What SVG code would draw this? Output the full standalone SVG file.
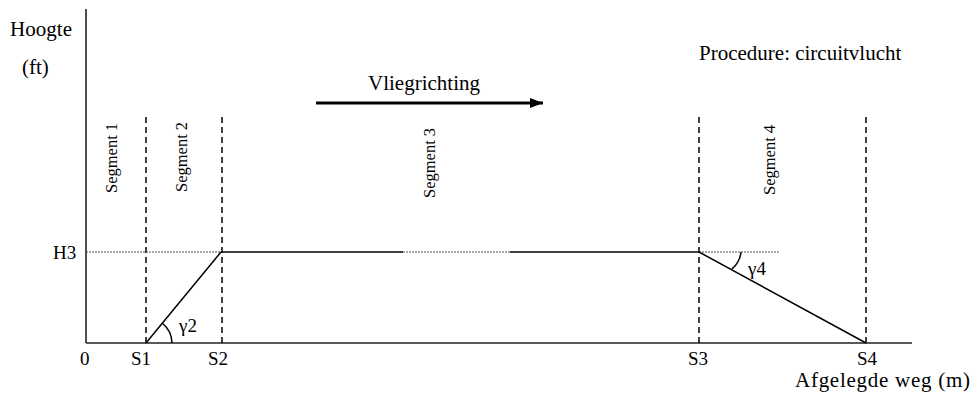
<svg xmlns="http://www.w3.org/2000/svg" width="974" height="401" viewBox="0 0 974 401">
<style>
text{font-family:"Liberation Serif","Times New Roman",serif;fill:#000}
.lbl{font-size:19px}
.big{font-size:21px}
.seg{font-size:16.5px}
.axis{stroke:#222;stroke-width:1.6;fill:none}
.dash{stroke:#000;stroke-width:1.5;stroke-dasharray:6 4;fill:none}
.dot{stroke:#555;stroke-width:1.2;stroke-dasharray:2 1;fill:none}
.path{stroke:#000;stroke-width:1.5;fill:none}
</style>
<defs>
<marker id="ah" markerWidth="14" markerHeight="12" refX="13" refY="5" orient="auto" markerUnits="userSpaceOnUse">
<path d="M0,0 L13,5 L0,10 Z" fill="#000"/>
</marker>
</defs>
<g id="axes">
<line class="axis" x1="86" y1="9" x2="86" y2="343"/>
<line class="axis" x1="86" y1="343" x2="912" y2="343"/>
<text class="big" x="10" y="36" textLength="62">Hoogte</text>
<text class="big" x="22" y="74">(ft)</text>
<text class="big" x="795" y="387" font-size="22" textLength="175">Afgelegde weg (m)</text>
<text class="lbl" x="80" y="365">0</text>
<text class="lbl" x="53" y="259">H3</text>
</g>
<g id="segment-lines">
<line class="dash" x1="146" y1="117" x2="146" y2="343"/>
<line class="dash" x1="222" y1="117" x2="222" y2="343"/>
<line class="dash" x1="699" y1="117" x2="699" y2="343"/>
<line class="dash" x1="866" y1="117" x2="866" y2="343"/>
<text class="lbl" x="131" y="365">S1</text>
<text class="lbl" x="208" y="365">S2</text>
<text class="lbl" x="688" y="365">S3</text>
<text class="lbl" x="857" y="365">S4</text>
</g>
<g id="segment-labels">
<text class="seg" transform="translate(117,193) rotate(-90)">Segment 1</text>
<text class="seg" transform="translate(187,192) rotate(-90)">Segment 2</text>
<text class="seg" transform="translate(435,198) rotate(-90)">Segment 3</text>
<text class="seg" transform="translate(775,195) rotate(-90)">Segment 4</text>
</g>
<g id="profile">
<line class="dot" x1="86" y1="252" x2="221" y2="252"/>
<line class="path" x1="146" y1="343" x2="221" y2="252"/>
<line class="path" x1="221" y1="252" x2="403" y2="252"/>
<line class="dot" x1="403" y1="252" x2="510" y2="252"/>
<line class="path" x1="510" y1="252" x2="699" y2="252"/>
<line class="dot" x1="699" y1="252" x2="779" y2="252"/>
<line class="path" x1="699" y1="252" x2="866" y2="343"/>
<path class="path" d="M172,343 A26,26 0 0 0 162,323"/>
<path class="path" d="M741,252 Q740,262 732,269"/>
<text class="lbl" x="179" y="332">γ2</text>
<text class="lbl" x="748" y="275">γ4</text>
</g>
<g id="direction">
<line x1="316" y1="103" x2="543" y2="103" stroke="#000" stroke-width="3" marker-end="url(#ah)"/>
<text class="big" x="368" y="90">Vliegrichting</text>
</g>
<g id="title">
<text class="big" x="699" y="60">Procedure: circuitvlucht</text>
</g>
</svg>
